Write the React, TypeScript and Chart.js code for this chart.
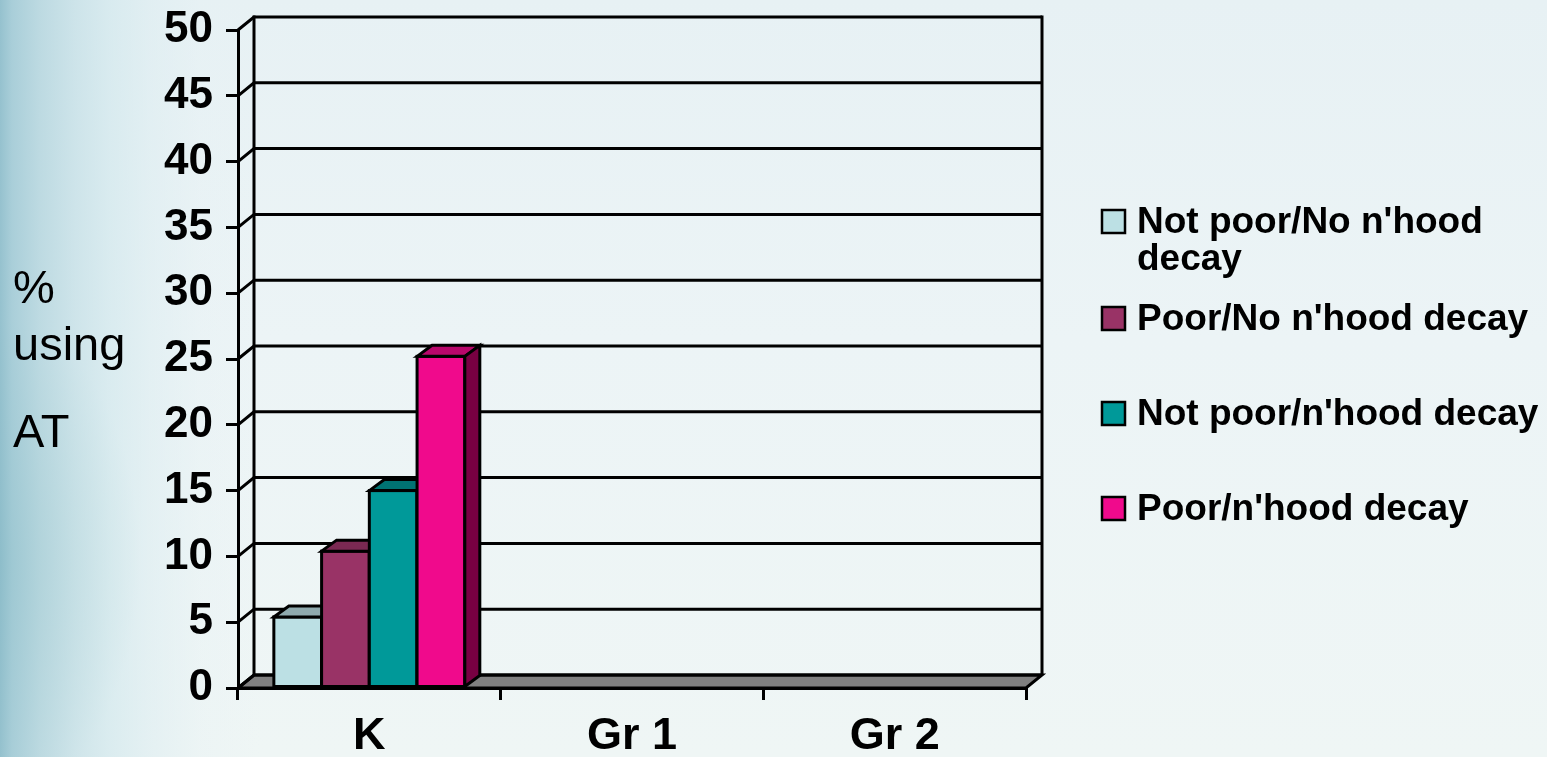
import React, { useEffect, useRef } from "react";
import { Chart, registerables } from "chart.js";

Chart.register(...registerables);

// Grade categories along the x axis
const grades = ["K", "Gr 1", "Gr 2"];

// Percent using AT, one array per group
const notPoorNoDecay = [5.4, null, null];
const poorNoDecay = [10.4, null, null];
const notPoorDecay = [15.0, null, null];
const poorDecay = [25.2, null, null];

// Legend text (first entry wraps onto two lines)
const seriesLabels = [
  ["Not poor/No n'hood", "decay"],
  ["Poor/No n'hood decay"],
  ["Not poor/n'hood decay"],
  ["Poor/n'hood decay"],
];

// Value axis ticks and the horizontal axis caption
const yTicks = [0, 5, 10, 15, 20, 25, 30, 35, 40, 45, 50];
const yTitle = ["%", "using", "AT"];

const frontColors = ["#BCE0E4", "#993366", "#009999", "#F00A8C"];
const topColors = ["#8FAAAE", "#7A2952", "#007373", "#B8076B"];
const sideColors = ["#7E9A9E", "#5E1F3F", "#005959", "#780042"];

const FONT = "'Liberation Sans', Arial, Helvetica, sans-serif";

// depth of the back wall / floor and of each column
const WALL_DX = 16;
const WALL_DY = 13;
const BAR_DX = 15;
const BAR_DY = 11;

const depthPlugin = {
  id: "depth3d",
  beforeDatasetsDraw(chart: any) {
    const { ctx, chartArea: a } = chart;
    const y = chart.scales.y;
    ctx.save();
    ctx.lineWidth = 3;
    ctx.strokeStyle = "#000";
    ctx.lineJoin = "miter";

    // floor
    ctx.beginPath();
    ctx.moveTo(a.left, a.bottom);
    ctx.lineTo(a.left + WALL_DX, a.bottom - WALL_DY);
    ctx.lineTo(a.right + WALL_DX, a.bottom - WALL_DY);
    ctx.lineTo(a.right, a.bottom);
    ctx.closePath();
    ctx.fillStyle = "#808080";
    ctx.fill();
    ctx.stroke();

    // gridlines on the side and back walls
    for (const v of yTicks) {
      const py = y.getPixelForValue(v);
      ctx.beginPath();
      ctx.moveTo(a.left, py);
      ctx.lineTo(a.left + WALL_DX, py - WALL_DY);
      ctx.lineTo(a.right + WALL_DX, py - WALL_DY);
      ctx.stroke();
    }

    // back wall edges
    const top = y.getPixelForValue(50) - WALL_DY;
    const bot = y.getPixelForValue(0) - WALL_DY;
    ctx.beginPath();
    ctx.moveTo(a.left + WALL_DX, top - 1.5);
    ctx.lineTo(a.left + WALL_DX, bot);
    ctx.moveTo(a.right + WALL_DX, top - 1.5);
    ctx.lineTo(a.right + WALL_DX, bot);
    ctx.stroke();
    ctx.restore();
  },
  afterDatasetsDraw(chart: any) {
    const { ctx } = chart;
    ctx.save();
    ctx.lineWidth = 3;
    ctx.strokeStyle = "#000";
    ctx.lineJoin = "miter";
    chart.data.datasets.forEach((ds: any, i: number) => {
      const meta = chart.getDatasetMeta(i);
      meta.data.forEach((el: any, j: number) => {
        if (ds.data[j] == null) return;
        const p = el.getProps(["x", "y", "width", "base"], true);
        if (!Number.isFinite(p.y)) return;
        const l = p.x - p.width / 2;
        const r = p.x + p.width / 2;
        const t = Math.min(p.y, p.base);
        const b = Math.max(p.y, p.base);
        // front
        ctx.fillStyle = frontColors[i];
        ctx.fillRect(l, t, r - l, b - t);
        ctx.strokeRect(l, t, r - l, b - t);
        // top
        ctx.beginPath();
        ctx.moveTo(l, t);
        ctx.lineTo(l + BAR_DX, t - BAR_DY);
        ctx.lineTo(r + BAR_DX, t - BAR_DY);
        ctx.lineTo(r, t);
        ctx.closePath();
        ctx.fillStyle = topColors[i];
        ctx.fill();
        ctx.stroke();
        // side
        ctx.beginPath();
        ctx.moveTo(r, t);
        ctx.lineTo(r + BAR_DX, t - BAR_DY);
        ctx.lineTo(r + BAR_DX, b - BAR_DY);
        ctx.lineTo(r, b);
        ctx.closePath();
        ctx.fillStyle = sideColors[i];
        ctx.fill();
        ctx.stroke();
      });
    });
    ctx.restore();
  },
  afterDraw(chart: any) {
    const { ctx } = chart;
    ctx.save();
    ctx.fillStyle = "#000";
    ctx.textAlign = "left";
    ctx.textBaseline = "alphabetic";

    // axis caption, stacked horizontally on the left
    ctx.font = `47px ${FONT}`;
    const titleBaselines = [303, 360, 447];
    yTitle.forEach((s, k) => ctx.fillText(s, 13, titleBaselines[k]));

    // legend
    ctx.font = `bold 37px ${FONT}`;
    const firstBaselines = [233, 330, 425, 520];
    seriesLabels.forEach((lines, i) => {
      const bl = firstBaselines[i];
      ctx.fillStyle = frontColors[i];
      ctx.fillRect(1102, bl - 23, 23, 23);
      ctx.lineWidth = 2.5;
      ctx.strokeStyle = "#000";
      ctx.strokeRect(1102, bl - 23, 23, 23);
      ctx.fillStyle = "#000";
      lines.forEach((line, k) => ctx.fillText(line, 1137, bl + k * 37));
    });
    ctx.restore();
  },
};

export default function App() {
  const ref = useRef<HTMLCanvasElement | null>(null);

  useEffect(() => {
    if (!ref.current) return;
    const chart = new Chart(ref.current, {
      type: "bar",
      data: {
        labels: grades,
        datasets: [
          { label: seriesLabels[0].join(" "), data: notPoorNoDecay, backgroundColor: frontColors[0] },
          { label: seriesLabels[1].join(" "), data: poorNoDecay, backgroundColor: frontColors[1] },
          { label: seriesLabels[2].join(" "), data: notPoorDecay, backgroundColor: frontColors[2] },
          { label: seriesLabels[3].join(" "), data: poorDecay, backgroundColor: frontColors[3] },
        ],
      },
      options: {
        responsive: false,
        animation: false,
        events: [],
        layout: { padding: { left: 0, top: 30, right: 521, bottom: 0 } },
        datasets: {
          bar: { categoryPercentage: 0.727, barPercentage: 1.0, borderWidth: 0 },
        },
        plugins: {
          legend: { display: false },
          tooltip: { enabled: false },
        },
        scales: {
          x: {
            type: "category",
            offset: true,
            grid: {
              offset: true,
              drawOnChartArea: false,
              drawTicks: true,
              tickLength: 12,
              color: "#000",
              lineWidth: 3,
            },
            border: { display: true, color: "#000", width: 3 },
            ticks: {
              color: "#000",
              font: { family: FONT, size: 45, weight: "bold" },
              padding: 10,
              maxRotation: 0,
            },
            afterFit: (s: any) => {
              s.height = 69;
            },
          },
          y: {
            min: 0,
            max: 50,
            ticks: {
              stepSize: 5,
              color: "#000",
              font: { family: FONT, size: 44, weight: "bold", lineHeight: 0.5 },
              padding: 13,
            },
            grid: {
              drawOnChartArea: false,
              drawTicks: true,
              tickLength: 12,
              color: "#000",
              lineWidth: 3,
            },
            border: { display: true, color: "#000", width: 3 },
            afterFit: (s: any) => {
              s.width = 238;
            },
          },
        },
      },
      plugins: [depthPlugin],
    });
    return () => chart.destroy();
  }, []);

  const bg = [
    "linear-gradient(to right, rgba(140,188,202,0.9) 0px, rgba(158,200,212,0.85) 12px, rgba(178,212,221,0.8) 40px, rgba(196,223,230,0.75) 75px, rgba(210,232,237,0.7) 110px, rgba(221,237,241,0.6) 150px, rgba(230,241,244,0.3) 200px, rgba(235,243,246,0) 260px)",
    "radial-gradient(ellipse 140px 240px at 0px 560px, rgba(70,150,155,0.5), rgba(70,150,155,0))",
    "linear-gradient(to bottom, #e7f1f4 0%, #ecf4f6 45%, #eff6f5 100%)",
  ].join(", ");

  return (
    <div
      style={{
        position: "fixed",
        left: 0,
        top: 0,
        width: 1547,
        height: 757,
        background: bg,
        overflow: "hidden",
      }}
    >
      <canvas ref={ref} width={1547} height={757} style={{ display: "block" }} />
    </div>
  );
}
